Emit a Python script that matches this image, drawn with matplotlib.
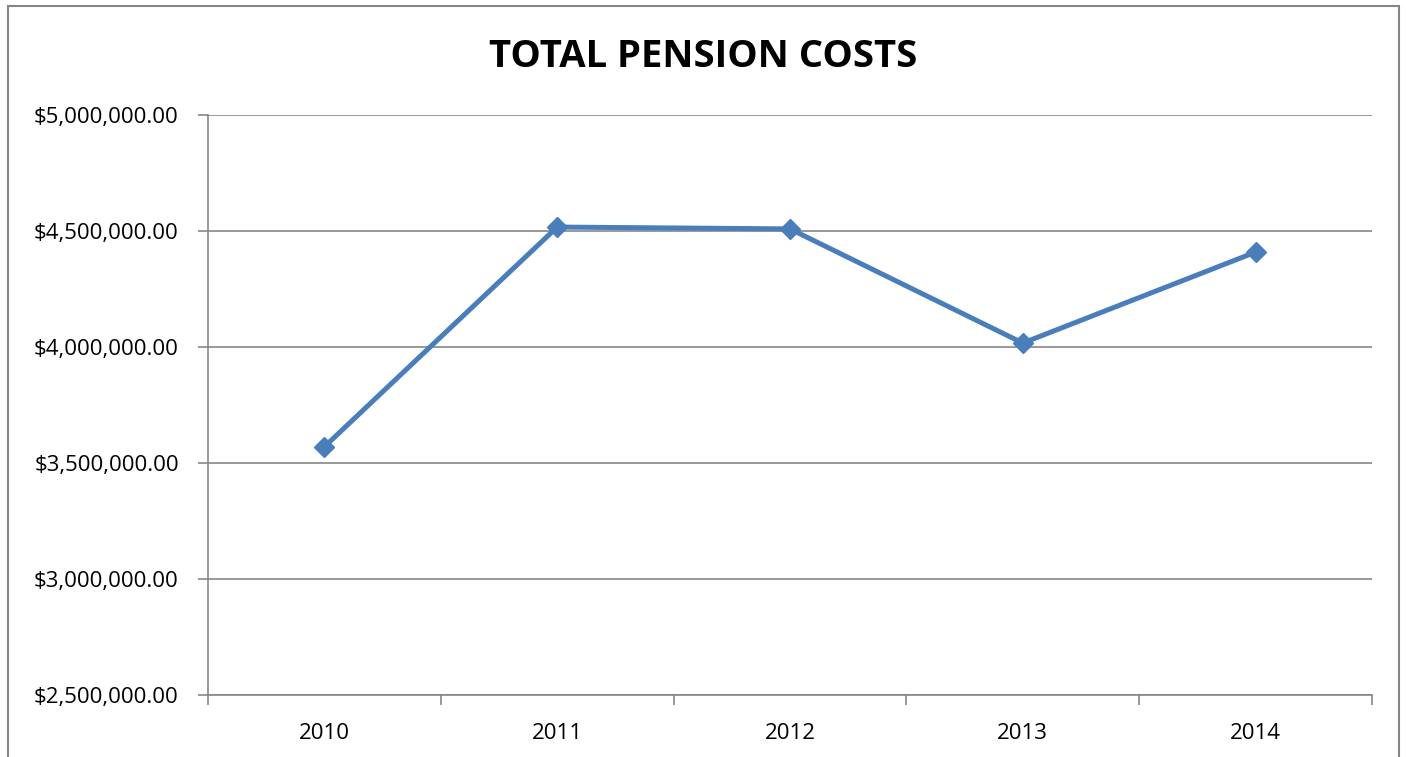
import matplotlib
matplotlib.use("Agg")
import matplotlib.pyplot as plt
from matplotlib.patches import Rectangle
from matplotlib.ticker import FuncFormatter, FixedLocator

## DATA
years = ["2010", "2011", "2012", "2013", "2014"]
pension_costs = [3570000, 4517000, 4509000, 4017000, 4409000]

## COLORS
LINE_COLOR = "#4A7EBB"
GRID_COLOR = "#868686"

plt.rcParams["font.family"] = ["Open Sans", "DejaVu Sans"]

fig = plt.figure(figsize=(14.06, 7.57), dpi=100)
ax = fig.add_axes([208 / 1406, 1 - 695 / 757, (1372 - 208) / 1406, (695 - 115) / 757])

# outer chart border
fig.patches.append(Rectangle((8 / 1406, -0.05), (1399 - 8) / 1406, 1.05 - 6 / 757,
                             transform=fig.transFigure, fill=False,
                             edgecolor=GRID_COLOR, linewidth=1.5))

x = list(range(1, len(years) + 1))
ax.plot(x, pension_costs, color=LINE_COLOR, linewidth=3.6, marker="D",
        markersize=10, markerfacecolor=LINE_COLOR, markeredgecolor=LINE_COLOR, zorder=3)

ax.set_ylim(2500000, 5000000)
ax.set_xlim(0.5, len(years) + 0.5)
ax.yaxis.set_major_locator(FixedLocator([2500000 + 500000 * i for i in range(6)]))
ax.yaxis.set_major_formatter(FuncFormatter(lambda v, p: "${:,.2f}".format(v)))
ax.grid(axis="y", color=GRID_COLOR, linewidth=1.2)
ax.set_axisbelow(True)

# category boundaries as major ticks, labels on minor ticks
ax.set_xticks([i + 0.5 for i in range(len(years) + 1)])
ax.set_xticklabels([])
ax.set_xticks(x, minor=True)
ax.set_xticklabels(years, minor=True)
ax.tick_params(axis="x", which="major", length=7, color=GRID_COLOR, width=1.2)
ax.tick_params(axis="x", which="minor", length=0, pad=20, labelsize=16)
ax.tick_params(axis="y", length=7, color=GRID_COLOR, width=1.2, labelsize=16, pad=14)

for side in ["top", "right"]:
    ax.spines[side].set_visible(False)
for side in ["left", "bottom"]:
    ax.spines[side].set_color(GRID_COLOR)
    ax.spines[side].set_linewidth(1.2)

fig.text(703 / 1406, 1 - 57 / 757, "TOTAL PENSION COSTS", ha="center", va="center",
         fontsize=27.5, fontweight="bold")

fig.savefig("out.png", dpi=100)
